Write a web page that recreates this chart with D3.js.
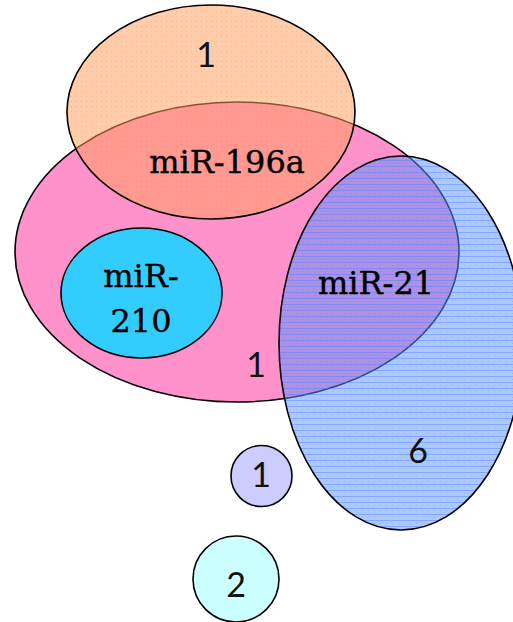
<!DOCTYPE html>
<html>
<head>
<meta charset="utf-8">
<script src="https://cdn.jsdelivr.net/npm/d3@7"></script>
<style>
  html, body { margin: 0; padding: 0; background: #fff; }
  svg { display: block; }
</style>
</head>
<body>
<div class="chart"></div>
<script>
// set names and region counts
const setNames = ['miR-196a', 'pink', 'miR-210', 'miR-21', 'other-a', 'other-b'];
const setLabels = [['miR-196a'], [], ['miR-', '210'], ['miR-21'], [], []];
const regionCounts = [1, 1, 6, 1, 2];
const regionOf = ['miR-196a only', 'pink only', 'miR-21 only', 'small a', 'small b'];

// shape layout (diagram units, 0..513 x 0..622)
const shapeCx = [211, 237, 141.5, 401, 261.5, 236];
const shapeCy = [112, 252, 293, 343, 476, 579];
const shapeRx = [144, 222, 80.5, 122, 30.5, 43];
const shapeRy = [107, 150, 65, 187, 30.5, 43];
const drawOrder = [1, 0, 2, 3, 4, 5];

const width = 513, height = 622;

const svg = d3.select('.chart')
  .append('svg')
    .attr('width', width)
    .attr('height', height);

const x = d3.scaleLinear().domain([0, 513]).range([0, width]);
const y = d3.scaleLinear().domain([0, 622]).range([0, height]);

const defs = svg.append('defs');

// dotted texture for the orange set
let dots = defs.append('pattern')
    .attr('id', 'dots')
    .attr('width', 5).attr('height', 5)
    .attr('patternUnits', 'userSpaceOnUse');
dots.append('rect').attr('width', 5).attr('height', 5).attr('fill', 'rgba(255,160,94,0.53)');
dots.append('rect').attr('x', 1).attr('y', 1).attr('width', 1).attr('height', 1)
    .attr('fill', 'rgba(255,120,70,0.35)');

// striped texture for miR-21
let stripes = defs.append('pattern')
    .attr('id', 'stripes')
    .attr('width', 6).attr('height', 6)
    .attr('patternUnits', 'userSpaceOnUse');
stripes.append('rect').attr('width', 6).attr('height', 6).attr('fill', 'rgba(90,145,255,0.5)');
stripes.append('rect').attr('y', 4).attr('width', 6).attr('height', 1)
    .attr('fill', 'rgba(70,120,255,0.4)');
stripes.append('rect').attr('x', 2).attr('y', 1).attr('width', 1).attr('height', 1)
    .attr('fill', 'rgba(70,120,255,0.25)');

const fills = ['url(#dots)', '#ff91cb', '#33ccff', 'url(#stripes)', '#ccccff', '#ccffff'];

svg.selectAll('ellipse')
  .data(drawOrder)
  .enter()
  .append('ellipse')
    .attr('cx', i => x(shapeCx[i]))
    .attr('cy', i => y(shapeCy[i]))
    .attr('rx', i => x(shapeRx[i]))
    .attr('ry', i => y(shapeRy[i]))
    .attr('fill', i => fills[i])
    .attr('stroke', '#000')
    .attr('stroke-width', 1.6);

// set labels (serif)
const labelPos = [[227, 173], null, [141, 287], [376, 294], null, null];
setLabels.forEach((lines, i) => {
  if (!lines.length) return;
  const t = svg.append('text')
    .attr('text-anchor', 'middle')
    .attr('font-family', 'DejaVu Serif, serif')
    .attr('font-size', 32)
    .attr('fill', '#000')
    .attr('stroke', '#000')
    .attr('stroke-width', 0.4);
  lines.forEach((ln, k) => {
    t.append('tspan')
      .attr('x', x(labelPos[i][0]))
      .attr('y', y(labelPos[i][1] + k * 45))
      .text(ln);
  });
});

// region counts (sans)
const countX = [206, 256, 418, 261, 236];
const countY = [67, 377, 463, 487, 597];
svg.selectAll('text.count')
  .data(regionCounts)
  .enter()
  .append('text')
    .attr('class', 'count')
    .attr('x', (d, i) => x(countX[i]))
    .attr('y', (d, i) => y(countY[i]))
    .attr('text-anchor', 'middle')
    .attr('font-family', 'Lato, Open Sans, sans-serif')
    .attr('font-size', 34)
    .attr('fill', '#111')
    .text(d => d);
</script>
</body>
</html>
